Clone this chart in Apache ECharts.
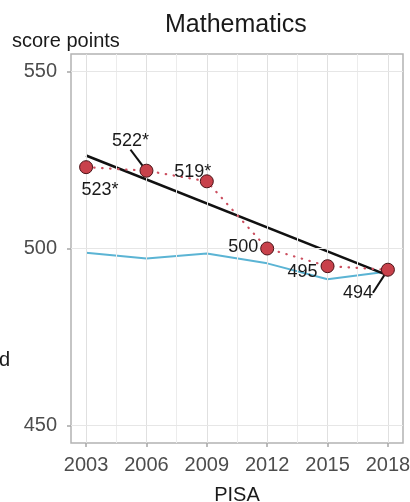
<!DOCTYPE html>
<html>
<head>
<meta charset="utf-8">
<script src="https://cdn.jsdelivr.net/npm/echarts@6/dist/echarts.min.js"></script>
<style>
  html, body { margin: 0; padding: 0; background: #fff; }
  #chart { width: 410px; height: 502px; }
</style>
</head>
<body>
<div id="chart"></div>
<script>
// PISA mathematics results, 2003-2018
const years = [2003, 2006, 2009, 2012, 2015, 2018];
const scores = [523, 522, 519, 500, 495, 494];
const scoreLabels = ['523*', '522*', '519*', '500', '495', '494'];
const oecdAverage = [498.8, 497.2, 498.6, 495.8, 491.3, 493.5];
const trendYears = [2003, 2018];
const trendValues = [526.3, 492.4];
const yTicks = [450, 500, 550];
const minorYears = [2004.5, 2007.5, 2010.5, 2013.5, 2016.5];

// label placement around each point (px) and which labels get a leader line
const labelShift = [[14, 23], [-16, -30], [-14, -9], [-24, -1], [-25, 6], [-30, 23]];
const withLeader = [false, true, false, false, false, true];

const FONT = '"Liberation Sans", Arial, sans-serif';

const chart = echarts.init(document.getElementById('chart'), null, { renderer: 'canvas' });

const gridLines = (vals, key, color) => ({
  type: 'line', data: [], z: 1, silent: true,
  markLine: {
    silent: true, symbol: 'none', animation: false,
    label: { show: false },
    lineStyle: { color: color, width: 1, type: 'solid' },
    data: vals.map(v => ({ [key]: v }))
  }
});

chart.setOption({
  animation: false,
  backgroundColor: '#ffffff',
  grid: {
    left: 71, right: 7, top: 54, bottom: 59,
    outerBoundsMode: 'none', containLabel: false,
    show: true, borderColor: '#b3b3b3', borderWidth: 1.5, backgroundColor: 'transparent'
  },
  xAxis: {
    type: 'value', min: 2002.25, max: 2018.75,
    axisLine: { show: false },
    splitLine: { show: false },
    axisTick: { show: true, customValues: years, length: 4, lineStyle: { color: '#a6a6a6', width: 1.5 } },
    axisLabel: { customValues: years, formatter: v => String(v), color: '#4d4d4d', fontSize: 20, fontFamily: FONT, margin: 12 },
    name: 'PISA', nameLocation: 'middle', nameGap: 42,
    nameTextStyle: { color: '#1a1a1a', fontSize: 20, fontFamily: FONT }
  },
  yAxis: {
    type: 'value', min: 445, max: 555,
    axisLine: { show: false },
    splitLine: { show: false },
    axisTick: { show: true, customValues: yTicks, length: 4, lineStyle: { color: '#a6a6a6', width: 1.5 } },
    axisLabel: { customValues: yTicks, formatter: v => String(v), color: '#4d4d4d', fontSize: 20, fontFamily: FONT, margin: 14 }
  },
  graphic: [
    { type: 'text', left: 237 - 72, top: 13,
      style: { text: 'Mathematics', fontSize: 25, fontFamily: FONT, fill: '#1a1a1a' } },
    { type: 'text', left: 12, top: 31,
      style: { text: 'score points', fontSize: 20, fontFamily: FONT, fill: '#1a1a1a' } },
    { type: 'text', left: -1, top: 350,
      style: { text: 'd', fontSize: 20, fontFamily: FONT, fill: '#1a1a1a' } }
  ],
  series: [
    gridLines(years, 'xAxis', '#e0e0e0'),
    gridLines(minorYears, 'xAxis', '#ececec'),
    gridLines(yTicks, 'yAxis', '#e6e6e6'),
    {
      name: 'OECD average', type: 'line', z: 3,
      data: years.map((y, i) => [y, oecdAverage[i]]),
      symbol: 'none', lineStyle: { color: '#5bb4d4', width: 2 }
    },
    {
      name: 'Trend', type: 'line', z: 4,
      data: trendYears.map((y, i) => [y, trendValues[i]]),
      symbol: 'none', lineStyle: { color: '#111111', width: 2.5 }
    },
    {
      name: 'Mean score path', type: 'line', z: 5,
      data: years.map((y, i) => [y, scores[i]]),
      symbol: 'none', lineStyle: { color: '#cc5060', width: 2.2, type: [0.5, 7.5], cap: 'round' }
    },
    {
      name: 'Mean score', type: 'scatter', z: 6,
      data: years.map((y, i) => ({
        value: [y, scores[i]],
        labelLine: { show: withLeader[i], lineStyle: { color: '#111111', width: 2 } }
      })),
      symbolSize: 13,
      itemStyle: { color: '#c8414b', borderColor: '#4a1418', borderWidth: 1, opacity: 1 },
      label: {
        show: true, position: 'inside',
        formatter: p => scoreLabels[p.dataIndex],
        color: '#1a1a1a', fontSize: 18, fontFamily: FONT
      },
      labelLine: { show: false, length2: 0 },
      labelLayout: p => ({ dx: labelShift[p.dataIndex][0], dy: labelShift[p.dataIndex][1] })
    }
  ]
});
</script>
</body>
</html>
